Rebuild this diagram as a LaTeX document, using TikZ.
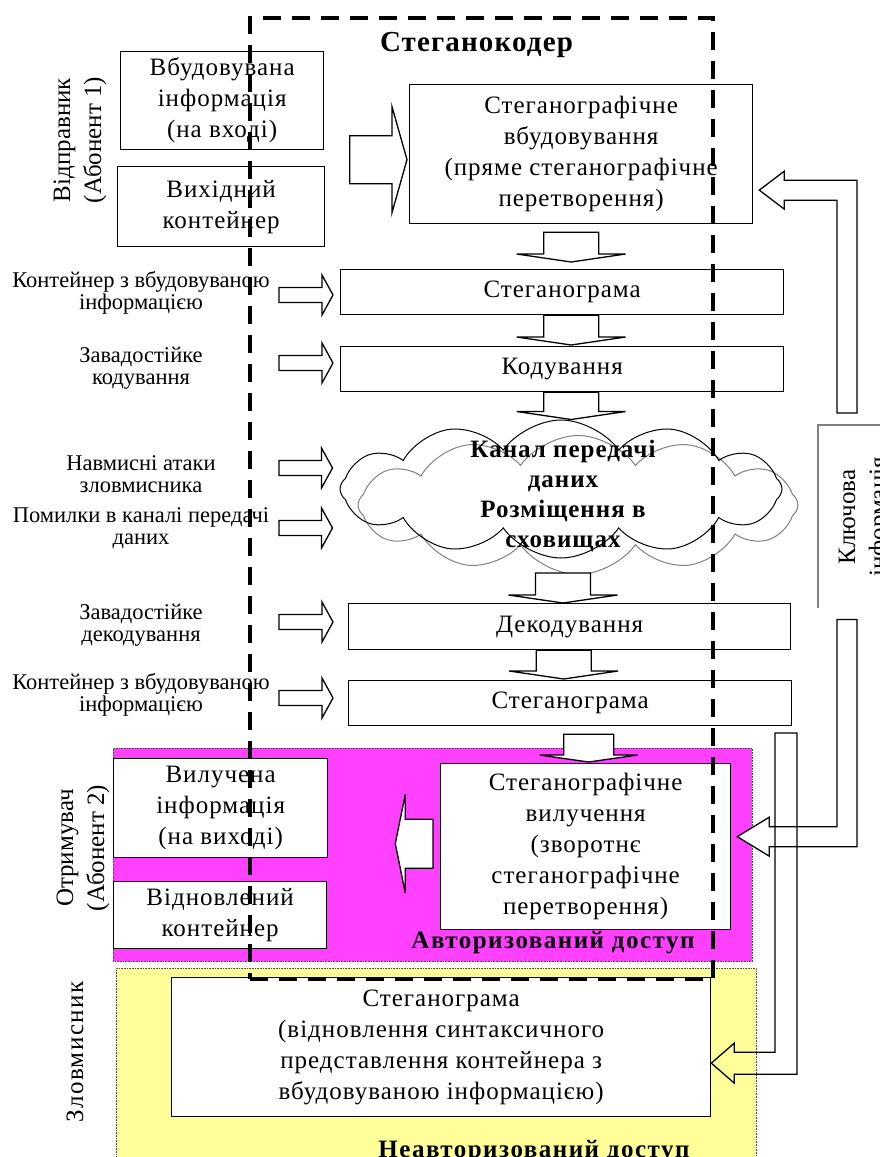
\documentclass[tikz,border=0pt]{standalone}
\usepackage{fontspec}
\setmainfont{Liberation Serif}
\newfontfamily\spacedrm[LetterSpace=4]{Liberation Serif}
\newfontfamily\widerm[LetterSpace=6]{Liberation Serif}
\usetikzlibrary{shapes.symbols,calc,positioning}

\definecolor{authmag}{RGB}{255,64,255}
\definecolor{unauthyel}{RGB}{255,255,153}
\definecolor{keygray}{RGB}{128,128,128}

\newcommand{\mainsz}{\spacedrm\fontsize{25}{31}\selectfont}
\newcommand{\labsz}{\fontsize{22.5}{22}\selectfont}
\newcommand{\sidesz}{\fontsize{25}{31}\selectfont}
\newcommand{\chansz}{\spacedrm\fontsize{25}{30}\selectfont}
\newcommand{\zonesz}{\widerm\fontsize{25}{28}\selectfont}
\newcommand{\titsz}{\spacedrm\fontsize{29}{32}\selectfont}

\tikzset{
  blk/.style={draw, line width=1.3pt, fill=white, align=center, inner sep=0pt, font=\mainsz},
  lab/.style={align=center, inner sep=0pt, font=\labsz},
  side/.style={align=center, inner sep=0pt, font=\sidesz},
  boldtxt/.style={align=center, inner sep=0pt, font=\chansz\bfseries},
  zone/.style={draw=black!70, densely dotted, line width=0.6pt, inner sep=0pt},
  zonetxt/.style={inner sep=0pt, font=\zonesz\bfseries},
  titletxt/.style={inner sep=0pt, font=\titsz\bfseries},
  chancloud/.style={cloud, cloud puffs=12, cloud puff arc=110, aspect=3.2, line width=1pt, inner sep=0pt},
  coderframe/.style={draw, line width=4pt, dash pattern=on 18pt off 11pt, inner sep=0pt},
  keyline/.style={draw=keygray, line width=1.2pt},
  arr/.style={draw, line width=1.3pt, fill=white},
  hblk/.style args={#1/#2/#3}{to path={let \p1=(\tikztostart), \p2=(\tikztotarget) in
    ({\x1},{\y1-#1}) -- ({\x2-(#3)},{\y1-#1}) -- ({\x2-(#3)},{\y1-#2}) -- ({\x2},{\y1})
    -- ({\x2-(#3)},{\y1+#2}) -- ({\x2-(#3)},{\y1+#1}) -- ({\x1},{\y1+#1}) -- cycle}},
  dblk/.style args={#1/#2/#3}{to path={let \p1=(\tikztostart), \p2=(\tikztotarget) in
    ({\x1-#1},{\y1}) -- ({\x1-#1},{\y2+#3}) -- ({\x1-#2},{\y2+#3}) -- ({\x1},{\y2})
    -- ({\x1+#2},{\y2+#3}) -- ({\x1+#1},{\y2+#3}) -- ({\x1+#1},{\y1}) -- cycle}},
  upblk/.style args={#1/#2/#3}{to path={let \p1=(\tikztostart), \p2=(\tikztotarget) in
    ({\x1-#1},{\y1}) -- ({\x1-#1},{\y2-#1}) -- ({\x2+#3},{\y2-#1}) -- ({\x2+#3},{\y2-#2})
    -- ({\x2},{\y2}) -- ({\x2+#3},{\y2+#2}) -- ({\x2+#3},{\y2+#1}) -- ({\x1+#1},{\y2+#1})
    -- ({\x1+#1},{\y1}) -- cycle}},
  dnblk/.style args={#1/#2/#3}{to path={let \p1=(\tikztostart), \p2=(\tikztotarget) in
    ({\x1-#1},{\y1}) -- ({\x1-#1},{\y2+#1}) -- ({\x2+#3},{\y2+#1}) -- ({\x2+#3},{\y2+#2})
    -- ({\x2},{\y2}) -- ({\x2+#3},{\y2-#2}) -- ({\x2+#3},{\y2-#1}) -- ({\x1+#1},{\y2-#1})
    -- ({\x1+#1},{\y1}) -- cycle}},
  rblk/.style={arr, hblk={7.5pt/20pt/11pt}},
  bigblk/.style={arr, hblk={24pt/53pt/15pt}},
  lblk/.style={arr, hblk={24.5pt/49.5pt/-10pt}},
  downblk/.style={arr, dblk={27.5pt/54.5pt/8pt}}
}

\begin{document}
\begin{tikzpicture}[x=1pt,y=-1pt]
\useasboundingbox (0,0) rectangle (880,1157);
\clip (0,0) rectangle (880,1157);

% access zones
\node[zone, fill=authmag, minimum width=639, minimum height=213, anchor=north west] (auth) at (113,748) {};
\node[zone, fill=unauthyel, minimum width=640, minimum height=200, anchor=north west] (unauth) at (116,968) {};

% sender
\node[blk, minimum width=203, minimum height=98, anchor=north west] (inp) at (120,51) {Вбудовувана\\інформація\\(на вході)};
\node[blk, minimum width=207, minimum height=80, anchor=north west] (src) at (117,166) {Вихідний\\контейнер};
\node[side, rotate=90] (sender) at (80,140) {Відправник\\(Абонент 1)};

% coder chain
\node[blk, minimum width=343, minimum height=139, anchor=north west] (emb) at (409,84) {Стеганографічне\\вбудовування\\(пряме стеганографічне\\перетворення)};
\node[blk, minimum width=443, minimum height=45, anchor=north west] (steg1) at (340,269) {Стеганограма};
\node[blk, minimum width=443, minimum height=45, anchor=north west] (cod) at (340,346) {Кодування};
\node[chancloud, draw=gray, minimum width=440, minimum height=139] (chanB) at (578,505) {};
\node[chancloud, draw=black, minimum width=442, minimum height=138] (chanA) at (561,489) {};
\node[boldtxt] (chan) at (563,496) {Канал передачі\\даних\\Розміщення в\\сховищах};
\node[blk, minimum width=442, minimum height=46, anchor=north west] (dec) at (348,603) {Декодування};
\node[blk, minimum width=443, minimum height=45, anchor=north west] (steg2) at (348,680) {Стеганограма};

% receiver
\node[blk, minimum width=214, minimum height=99, anchor=north west] (out) at (113,758) {Вилучена\\інформація\\(на виході)};
\node[blk, minimum width=213, minimum height=67, anchor=north west] (rest) at (113,881) {Відновлений\\контейнер};
\node[side, rotate=90] (receiver) at (83,848) {Отримувач\\(Абонент 2)};
\node[blk, minimum width=290, minimum height=166, anchor=north west] (extr) at (440,763) {Стеганографічне\\вилучення\\(зворотнє\\стеганографічне\\перетворення)};
\node[zonetxt] (authtxt) at (553,943) {Авторизований доступ};

% attacker
\node[blk, minimum width=539, minimum height=139, anchor=north west] (attk) at (171,977) {Стеганограма\\(відновлення синтаксичного\\представлення контейнера з\\вбудовуваною інформацією)};
\node[side, rotate=90] (attacker) at (75,1052) {\addfontfeatures{LetterSpace=6}Зловмисник};
\node[zonetxt] (unauthtxt) at (534,1152) {Неавторизований доступ};

% side inputs
\node[lab] (l1) at (141,293) {Контейнер з вбудовуваною\\інформацією};
\node[lab] (l2) at (141,368) {Завадостійке\\кодування};
\node[lab] (l3) at (141,474) {Навмисні атаки\\зловмисника};
\node[lab] (l4) at (141,528) {Помилки в каналі передачі\\даних};
\node[lab] (l5) at (141,625) {Завадостійке\\декодування};
\node[lab] (l6) at (141,695) {Контейнер з вбудовуваною\\інформацією};

\draw[rblk] ([shift={(138,2)}]l1.center) to ([shift={(-7,0)}]steg1.west);
\draw[rblk] ([shift={(138,-5)}]l2.center) to ([shift={(-7,0)}]cod.west);
\draw[rblk] ([shift={(138,-6)}]l3.center) to ([shift={(-7,0)}]chanA.west);
\draw[rblk] ([shift={(138,0)}]l4.center) to ([shift={(-7,0)}]chanA.west);
\draw[rblk] ([shift={(138,-3)}]l5.center) to ([shift={(-15,0)}]dec.west);
\draw[rblk] ([shift={(138,3)}]l6.center) to ([shift={(-15,0)}]steg2.west);

% main flow
\coordinate (snd) at ($(inp.east)!0.5!(src.east)$);
\draw[bigblk] ([shift={(25,6)}]snd) to ([shift={(-2,0)}]emb.west);
\draw[downblk] ([shift={(-10,8)}]emb.south) to ([shift={(0,-7)}]steg1.north);
\draw[downblk] ([shift={(9,0)}]steg1.south) to ([shift={(0,-1)}]cod.north);
\draw[downblk] ([shift={(9,0)}]cod.south) to (chanA.north);
\draw[downblk] ([shift={(-15,-2)}]chanB.south) to (dec.north);
\draw[downblk] ([shift={(-6,0)}]dec.south) to ([shift={(0,-1)}]steg2.north);
\draw[arr, dblk={25pt/49pt/7pt}] ([shift={(18.5,8)}]steg2.south) to ([shift={(0,-1)}]extr.north);
\draw[lblk] ([shift={(-7,-3)}]extr.west) to ([shift={(67,0)}]out.east);

% key information
\node[minimum width=100, minimum height=183, inner sep=0pt, anchor=north west] (key) at (818,425) {};
\draw[keyline] (key.south west) -- (key.north west) -- (key.north east);
\node[side, rotate=90] (keytxt) at (865,517) {Ключова\\інформація};
\draw[arr, upblk={10pt/19pt/25pt}] ([shift={(29,-12)}]key.north west) to ([shift={(6,36)}]emb.east);
\draw[arr, dnblk={10pt/19.5pt/32pt}] ([shift={(29,11)}]key.south west) to ([shift={(6,-10)}]extr.east);
\coordinate (keyb) at (786,733);
\draw[line width=1.3pt, dnblk={11pt/20pt/23pt}] (keyb) to ([shift={(0,16)}]attk.east);

% steganocoder frame
\node[coderframe, minimum width=463, minimum height=961, anchor=north west] (coder) at (248,16) {};
\node[titletxt] (codertitle) at ([shift={(-5,29)}]coder.north) {Стеганокодер};
\end{tikzpicture}
\end{document}
